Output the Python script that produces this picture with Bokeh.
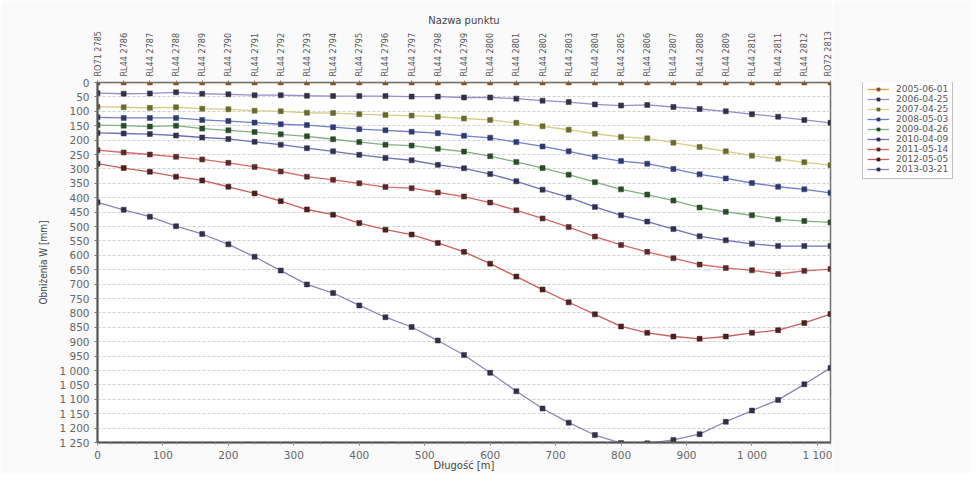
import numpy as np
from bokeh.plotting import figure
from bokeh.layouts import row
from bokeh.models import Range1d, LinearAxis, FixedTicker, Legend, LegendItem
from bokeh.embed import file_html
from bokeh.resources import INLINE

# ---------------- data ----------------
distance_m = [0, 40, 80, 120, 160, 200, 240, 280, 320, 360, 400, 440, 480, 520,
              560, 600, 640, 680, 720, 760, 800, 840, 880, 920, 960, 1000, 1040,
              1080, 1120]

point_names = ["RO71 2785", "RL44 2786", "RL44 2787", "RL44 2788", "RL44 2789",
               "RL44 2790", "RL44 2791", "RL44 2792", "RL44 2793", "RL44 2794",
               "RL44 2795", "RL44 2796", "RL44 2797", "RL44 2798", "RL44 2799",
               "RL44 2800", "RL44 2801", "RL44 2802", "RL44 2803", "RL44 2804",
               "RL44 2805", "RL44 2806", "RL44 2807", "RL44 2808", "RL44 2809",
               "RL44 2810", "RL44 2811", "RL44 2812", "RO72 2813"]

dates = ["2005-06-01", "2006-04-25", "2007-04-25", "2008-05-03", "2009-04-26",
         "2010-04-09", "2011-05-14", "2012-05-05", "2013-03-21"]

s2005 = [0, 0, 0, 0, 0, 0, 0, 0, 0, 0, 0, 0, 0, 0, 0, 0, 0, 0, 0, 0, 0, 0, 0, 0,
         0, 0, 0, 0, 0]
s2006 = [37, 39, 38, 34, 39, 41, 44, 44, 46, 47, 47, 47, 49, 49, 52, 52, 56, 63,
         68, 76, 80, 78, 85, 92, 100, 110, 119, 130, 140]
s2007 = [84, 86, 88, 86, 91, 93, 98, 100, 105, 106, 110, 113, 115, 119, 125, 130,
         140, 152, 164, 178, 189, 194, 209, 224, 239, 254, 265, 277, 287]
s2008 = [121, 123, 123, 123, 130, 134, 139, 145, 148, 155, 162, 166, 171, 176,
         185, 192, 207, 222, 239, 258, 273, 282, 300, 319, 333, 349, 362, 371, 383]
s2009 = [148, 150, 153, 150, 160, 166, 172, 180, 187, 197, 207, 216, 219, 230,
         240, 256, 276, 297, 320, 346, 371, 389, 410, 434, 449, 461, 475, 481, 486]
s2010 = [175, 177, 179, 184, 191, 196, 206, 216, 228, 239, 251, 262, 270, 286,
         298, 318, 343, 372, 399, 432, 461, 483, 509, 534, 548, 560, 568, 568, 568]
s2011 = [235, 243, 250, 258, 267, 279, 293, 309, 327, 338, 350, 363, 367, 382,
         396, 417, 444, 472, 502, 535, 564, 588, 610, 632, 644, 652, 665, 654, 648]
s2012 = [282, 297, 310, 327, 340, 362, 385, 412, 441, 459, 488, 511, 528, 557,
         588, 629, 674, 719, 763, 805, 847, 869, 882, 890, 882, 869, 860, 835, 804]
s2013 = [416, 442, 466, 499, 526, 562, 605, 653, 701, 731, 774, 815, 849, 896,
         946, 1008, 1072, 1132, 1181, 1224, 1252, 1253, 1241, 1221, 1178, 1139,
         1102, 1048, 991]

series = [s2005, s2006, s2007, s2008, s2009, s2010, s2011, s2012, s2013]

line_colors = ["#e8a040", "#9a8cc8", "#d8cc80", "#7080c8", "#80b080",
               "#7070b8", "#d86868", "#c86060", "#8888b0"]
marker_colors = ["#8a5020", "#303048", "#6a6a30", "#303a70", "#2a4a2a",
                 "#303050", "#5a2a2a", "#4a2020", "#303048"]

y_ticks = list(range(0, 1251, 50))
y_tick_labels = {v: f"{v:,}".replace(",", " ") for v in y_ticks}
x_ticks = [0, 100, 200, 300, 400, 500, 600, 700, 800, 900, 1000, 1100]
x_minor = list(range(0, 1121, 20))
x_tick_labels = {v: f"{v:,}".replace(",", " ") for v in x_ticks}

# ---------------- main figure ----------------
TICK_FONT = "DejaVu Sans"
NARROW = "Liberation Sans Narrow, DejaVu Sans Condensed, Roboto Condensed, sans-serif"
BORDER_FILL = "#fafafa"

p = figure(width=832, height=473, output_backend="svg", toolbar_location=None,
           x_range=Range1d(0, 1120), y_range=Range1d(1250, 0),
           min_border_left=97, min_border_right=2, min_border_top=82,
           min_border_bottom=28)
p.background_fill_color = "#ffffff"
p.border_fill_color = BORDER_FILL
p.outline_line_color = "#707070"
p.outline_line_width = 1.5

# grid
p.xgrid.visible = False
p.ygrid.ticker = FixedTicker(ticks=y_ticks)
p.ygrid.grid_line_color = "#cfcfcf"
p.ygrid.grid_line_dash = "3 2"

# left axis
ya = p.yaxis[0]
ya.ticker = FixedTicker(ticks=y_ticks)
ya.major_label_overrides = y_tick_labels
ya.axis_label = "Obniżenia W [mm]"
ya.axis_label_text_font = NARROW
ya.axis_label_text_font_size = "10px"
ya.axis_label_text_font_style = "normal"
ya.axis_label_text_color = "#444444"
ya.axis_label_standoff = 7
ya.major_label_text_font = TICK_FONT
ya.major_label_text_font_size = "10.5px"
ya.major_label_text_color = "#666666"
ya.major_label_standoff = 5
ya.axis_line_color = "#555555"
ya.axis_line_width = 2
ya.major_tick_line_color = "#777777"
ya.major_tick_out = 3
ya.major_tick_in = 0
ya.minor_tick_line_color = None

# bottom axis
xa = p.xaxis[0]
xa.ticker = FixedTicker(ticks=x_ticks, minor_ticks=x_minor)
xa.major_label_overrides = x_tick_labels
xa.axis_label = "Długość [m]"
xa.axis_label_text_font = TICK_FONT
xa.axis_label_text_font_size = "10px"
xa.axis_label_text_font_style = "normal"
xa.axis_label_text_color = "#444444"
xa.axis_label_standoff = -4
xa.major_label_text_font = TICK_FONT
xa.major_label_text_font_size = "10.5px"
xa.major_label_text_color = "#666666"
xa.major_label_standoff = 3
xa.axis_line_color = "#555555"
xa.axis_line_width = 2
xa.major_tick_line_color = "#777777"
xa.major_tick_out = 3
xa.major_tick_in = 0
xa.minor_tick_line_color = "#999999"
xa.minor_tick_out = 2
xa.minor_tick_in = 0

# top axis with point names
ta = LinearAxis(ticker=FixedTicker(ticks=distance_m),
                major_label_overrides={d: n for d, n in zip(distance_m, point_names)})
ta.axis_label = "Nazwa punktu"
ta.axis_label_text_font = TICK_FONT
ta.axis_label_text_font_size = "10px"
ta.axis_label_text_font_style = "normal"
ta.axis_label_text_color = "#444444"
ta.axis_label_standoff = 2
ta.major_label_orientation = np.pi / 2
ta.major_label_text_font = NARROW
ta.major_label_text_font_size = "9px"
ta.major_label_text_color = "#555555"
ta.major_label_standoff = 4
ta.axis_line_color = "#707070"
ta.major_tick_line_color = "#777777"
ta.major_tick_out = 2
ta.major_tick_in = 0
ta.minor_tick_line_color = None
p.add_layout(ta, "above")

for vals, lc, mc in zip(series, line_colors, marker_colors):
    p.line(distance_m, vals, line_color=lc, line_width=1.3)
    p.scatter(distance_m, vals, marker="square", size=5,
              fill_color=mc, line_color=mc, line_width=0.5)

# ---------------- legend panel (separate small figure) ----------------
# the same series are drawn here, but the view range excludes them, so only
# the legend (which needs renderers with data) is visible
lg = figure(width=138, height=473, output_backend="svg", toolbar_location=None,
            x_axis_type=None, y_axis_type=None,
            x_range=Range1d(-200, -100), y_range=Range1d(-200, -100),
            min_border_left=0, min_border_right=0, min_border_top=0,
            min_border_bottom=0)
lg.background_fill_color = BORDER_FILL
lg.border_fill_color = BORDER_FILL
lg.outline_line_color = None
lg.grid.visible = False

items = []
for d, vals, lc, mc in zip(dates, series, line_colors, marker_colors):
    r1 = lg.line(distance_m, vals, line_color=lc, line_width=1.3)
    r2 = lg.scatter(distance_m, vals, marker="square", size=5,
                    fill_color=mc, line_color=mc, line_width=0.5)
    items.append(LegendItem(label=d, renderers=[r1, r2]))

legend = Legend(items=items, location=(30, 263))
legend.label_text_font = TICK_FONT
legend.label_text_font_size = "9px"
legend.label_text_color = "#555555"
legend.label_height = 8
legend.glyph_height = 8
legend.glyph_width = 22
legend.label_standoff = 7
legend.spacing = 0
legend.padding = 4
legend.margin = 0
legend.border_line_color = "#808080"
legend.border_line_width = 1
legend.background_fill_color = "#ffffff"
legend.background_fill_alpha = 1.0
lg.add_layout(legend)

layout = row(p, lg)
open("out.html", "w").write(file_html(layout, INLINE))
